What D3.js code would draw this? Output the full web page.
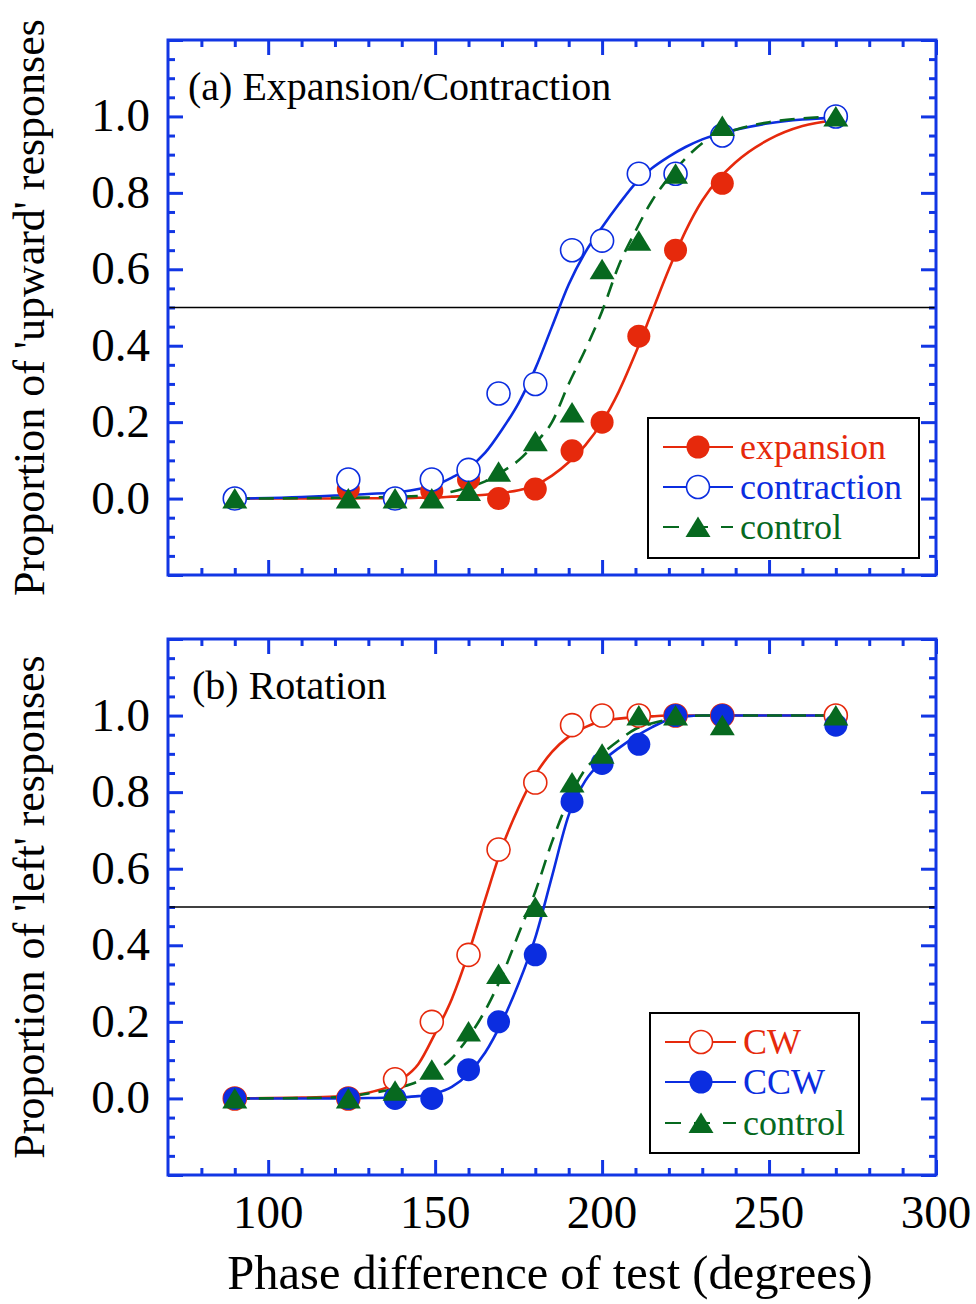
<!DOCTYPE html>
<html>
<head>
<meta charset="utf-8">
<script src="https://cdn.jsdelivr.net/npm/d3@7"></script>
<style>
body { margin: 0; background: #fff; }
text { font-family: "Liberation Serif", "Times New Roman", serif; }
</style>
</head>
<body>
<svg id="chart" width="976" height="1304"></svg>
<script>
// phase difference of each test (degrees)
const phase = [90, 124, 138, 149, 160, 169, 180, 191, 200, 211, 222, 236, 270];

// panel (a)
const expansion   = [0, 0.025, 0, 0.02, 0.05, 0, 0.025, 0.125, 0.2, 0.425, 0.65, 0.825, 1.0];
const contraction = [0, 0.05, 0, 0.05, 0.075, 0.275, 0.3, 0.65, 0.675, 0.85, 0.85, 0.95, 1.0];
const controlA    = [0, 0, 0, 0, 0.02, 0.07, 0.15, 0.225, 0.6, 0.675, 0.85, 0.975, 1.0];

// panel (b)
const cw       = [0, 0, 0.05, 0.2, 0.375, 0.65, 0.825, 0.975, 1.0, 1.0, 1.0, 1.0, 1.0];
const ccw      = [0, 0, 0, 0, 0.075, 0.2, 0.375, 0.775, 0.875, 0.925, 1.0, 1.0, 0.975];
const controlB = [0, 0, 0.02, 0.075, 0.175, 0.325, 0.5, 0.825, 0.9, 1.0, 1.0, 0.975, 1.0];

// fitted curves
const fitPhase = [90, 110, 120, 130, 140, 145, 150, 155, 160, 165, 170, 175, 180, 185, 190, 195, 200, 205, 210, 215, 220, 225, 230, 240, 250, 260, 270];
const expansionFit   = [0, 0, 0, 0.001, 0.001, 0.002, 0.003, 0.005, 0.007, 0.01, 0.015, 0.022, 0.035, 0.06, 0.095, 0.14, 0.2, 0.28, 0.38, 0.49, 0.6, 0.7, 0.78, 0.88, 0.94, 0.975, 0.99];
const contractionFit = [0, 0.004, 0.008, 0.012, 0.018, 0.025, 0.035, 0.055, 0.08, 0.12, 0.18, 0.25, 0.34, 0.45, 0.56, 0.645, 0.71, 0.77, 0.825, 0.865, 0.895, 0.92, 0.94, 0.965, 0.982, 0.992, 0.997];
const controlAFit    = [0, 0.001, 0.002, 0.003, 0.005, 0.007, 0.01, 0.018, 0.03, 0.045, 0.07, 0.1, 0.145, 0.2, 0.3, 0.39, 0.49, 0.61, 0.7, 0.78, 0.84, 0.89, 0.93, 0.965, 0.985, 0.995, 1.0];
const cwFit          = [0, 0.002, 0.005, 0.015, 0.05, 0.09, 0.17, 0.26, 0.38, 0.52, 0.655, 0.76, 0.845, 0.905, 0.945, 0.97, 0.985, 0.992, 0.996, 0.998, 1, 1, 1, 1, 1, 1, 1];
const ccwFit         = [0, 0, 0, 0.001, 0.003, 0.006, 0.013, 0.03, 0.065, 0.12, 0.2, 0.3, 0.42, 0.58, 0.74, 0.83, 0.88, 0.915, 0.945, 0.97, 0.99, 0.998, 1, 1, 1, 1, 1];
const controlBFit    = [0, 0.001, 0.003, 0.013, 0.03, 0.045, 0.07, 0.105, 0.16, 0.23, 0.32, 0.43, 0.54, 0.67, 0.78, 0.86, 0.9, 0.935, 0.965, 0.98, 0.99, 0.997, 1, 1, 1, 1, 1];

const xTickLabels = [100, 150, 200, 250, 300];
const yTickLabels = [0, 0.2, 0.4, 0.6, 0.8, 1.0];

const RED = "#e6290c", BLUE = "#0b2de0", GREEN = "#07691f", FRAME = "#1236e4";

const svg = d3.select("#chart");
const x = d3.scaleLinear().domain([70, 300]).range([168, 936]);

const panels = [
  {
    top: 40, bottom: 575,
    title: "(a) Expansion/Contraction", titleX: 188, titleY: 100,
    yTitle: "Proportion of 'upward' responses",
    legend: { x: 648, y: 418, w: 271, h: 140, rows: [447, 487, 527], line: [663, 733], mark: 698, text: 740 },
    series: [
      { name: "expansion", values: expansion, fit: expansionFit, color: RED, shape: "circle", filled: true, dashed: false },
      { name: "contraction", values: contraction, fit: contractionFit, color: BLUE, shape: "circle", filled: false, dashed: false },
      { name: "control", values: controlA, fit: controlAFit, color: GREEN, shape: "triangle", filled: true, dashed: true }
    ]
  },
  {
    top: 639, bottom: 1175,
    title: "(b) Rotation", titleX: 192, titleY: 699,
    yTitle: "Proportion of 'left' responses",
    legend: { x: 650, y: 1013, w: 209, h: 140, rows: [1042, 1082, 1123], line: [665, 736], mark: 701, text: 743 },
    series: [
      { name: "CW", values: cw, fit: cwFit, color: RED, shape: "circle", filled: false, dashed: false },
      { name: "CCW", values: ccw, fit: ccwFit, color: BLUE, shape: "circle", filled: true, dashed: false },
      { name: "control", values: controlB, fit: controlBFit, color: GREEN, shape: "triangle", filled: true, dashed: true }
    ]
  }
];

const triangle = "M0,-10.5L12.5,10L-12.5,10Z";

function drawMarker(sel, s) {
  if (s.shape === "circle") {
    sel.append("circle").attr("r", 11.5)
      .attr("fill", s.filled ? s.color : "#fff")
      .attr("stroke", s.color).attr("stroke-width", s.filled ? 0 : 1.6);
  } else {
    sel.append("path").attr("d", triangle).attr("fill", s.color);
  }
}

function styleTicks(g) {
  g.select(".domain").remove();
  g.selectAll(".tick line").attr("stroke", FRAME).attr("stroke-width", 3);
}

panels.forEach(function (p) {
  const y = d3.scaleLinear().domain([-0.2, 1.2]).range([p.bottom, p.top]);
  const g = svg.append("g");
  const xMinor = d3.range(80, 300, 10).filter(v => v % 50 !== 0);
  const yMinor = d3.range(-0.15, 1.2, 0.05).filter(v => Math.abs(v * 5 - Math.round(v * 5)) > 0.01);
  const yMajor = d3.range(-0.2, 1.21, 0.2);

  // ticks on all four sides, pointing inward
  [[d3.axisBottom, p.bottom], [d3.axisTop, p.top]].forEach(function (a) {
    g.append("g").attr("transform", "translate(0," + a[1] + ")")
      .call(a[0](x).tickValues(xTickLabels).tickSize(-15).tickFormat("")).call(styleTicks);
    g.append("g").attr("transform", "translate(0," + a[1] + ")")
      .call(a[0](x).tickValues(xMinor).tickSize(-7).tickFormat("")).call(styleTicks);
  });
  [[d3.axisLeft, 168], [d3.axisRight, 936]].forEach(function (a) {
    g.append("g").attr("transform", "translate(" + a[1] + ",0)")
      .call(a[0](y).tickValues(yMajor).tickSize(-15).tickFormat("")).call(styleTicks);
    g.append("g").attr("transform", "translate(" + a[1] + ",0)")
      .call(a[0](y).tickValues(yMinor).tickSize(-7).tickFormat("")).call(styleTicks);
  });

  // y tick labels
  g.selectAll(".ylab").data(yTickLabels).enter().append("text")
    .attr("x", 150).attr("y", d => y(d) + 15)
    .attr("text-anchor", "end").attr("font-size", 47)
    .text(d => d.toFixed(1));

  // 0.5 reference line
  g.append("line").attr("x1", 168).attr("x2", 936)
    .attr("y1", y(0.5)).attr("y2", y(0.5))
    .attr("stroke", "#000").attr("stroke-width", 1.5);

  // fitted curves
  const line = d3.line().x(d => x(d[0])).y(d => y(d[1])).curve(d3.curveMonotoneX);
  p.series.forEach(function (s) {
    g.append("path").datum(d3.zip(fitPhase, s.fit))
      .attr("d", line).attr("fill", "none")
      .attr("stroke", s.color).attr("stroke-width", 2.6)
      .attr("stroke-dasharray", s.dashed ? "15,9" : null);
  });

  // data points
  p.series.forEach(function (s) {
    const pts = g.selectAll(null).data(d3.zip(phase, s.values)).enter().append("g")
      .attr("transform", d => "translate(" + x(d[0]) + "," + y(d[1]) + ")");
    drawMarker(pts, s);
  });

  // panel title
  g.append("text").attr("x", p.titleX).attr("y", p.titleY)
    .attr("font-size", 40).text(p.title);

  // legend
  const L = p.legend;
  g.append("rect").attr("x", L.x).attr("y", L.y).attr("width", L.w).attr("height", L.h)
    .attr("fill", "#fff").attr("stroke", "#000").attr("stroke-width", 2);
  p.series.forEach(function (s, i) {
    const ry = L.rows[i];
    g.append("line").attr("x1", L.line[0]).attr("x2", L.line[1]).attr("y1", ry).attr("y2", ry)
      .attr("stroke", s.color).attr("stroke-width", 2)
      .attr("stroke-dasharray", s.dashed ? "16,13" : null);
    const m = g.append("g").attr("transform", "translate(" + L.mark + "," + ry + ")");
    drawMarker(m, s);
    g.append("text").attr("x", L.text).attr("y", ry + 12)
      .attr("font-size", 36).attr("fill", s.color).text(s.name);
  });

  // frame
  g.append("rect").attr("x", 168).attr("y", p.top)
    .attr("width", 936 - 168).attr("height", p.bottom - p.top)
    .attr("fill", "none").attr("stroke", FRAME).attr("stroke-width", 3);

  // y axis title
  g.append("text")
    .attr("transform", "translate(44," + (p.top + p.bottom) / 2 + ") rotate(-90)")
    .attr("text-anchor", "middle").attr("font-size", 44).text(p.yTitle);
});

// x tick labels and title (bottom panel only)
svg.selectAll(".xlab").data(xTickLabels).enter().append("text")
  .attr("x", d => x(d)).attr("y", 1228)
  .attr("text-anchor", "middle").attr("font-size", 47)
  .text(d => d);

svg.append("text").attr("x", 550).attr("y", 1289)
  .attr("text-anchor", "middle").attr("font-size", 48.5)
  .text("Phase difference of test (degrees)");
</script>
</body>
</html>
